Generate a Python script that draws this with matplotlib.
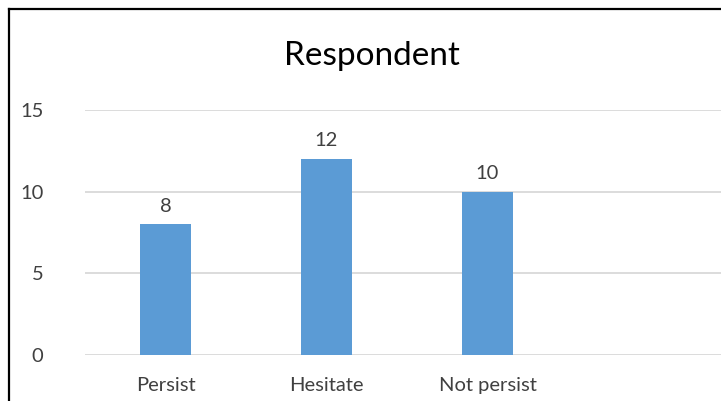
import numpy as np
import matplotlib.pyplot as plt
from matplotlib.lines import Line2D

# dades del grafic
categories = ['Persist', 'Hesitate', 'Not persist', '']
valors = [8, 12, 10, np.nan]
yticks = [0, 5, 10, 15]
titol = 'Respondent'

plt.rcParams['font.family'] = ['Lato', 'DejaVu Sans']

W, H = 721, 401
fig = plt.figure(figsize=(W / 100, H / 100), dpi=100)
fig.patch.set_facecolor('white')

# eixos ajustats a la posicio de la imatge original (pixels)
esq, dre, baix, dalt = 85, 721, 355, 110
ax = fig.add_axes([esq / W, 1 - baix / H, (dre - esq) / W, (baix - dalt) / H])

x = np.arange(len(categories))
barres = ax.bar(x, valors, width=0.32, color='#5B9BD5', zorder=3)

for xi, v in zip(x, valors):
    if not np.isnan(v):
        ax.annotate(f'{int(v)}', (xi, v), xytext=(0, 7), textcoords='offset points',
                    ha='center', va='bottom', fontsize=14.5, color='#404040')

ax.set_xlim(-0.5, (dre - esq) / 161 - 0.5)
ax.set_ylim(0, 15)
ax.set_yticks(yticks)
ax.set_yticklabels([str(t) for t in yticks], fontsize=14.5, color='#404040')
ax.set_xticks(x)
ax.set_xticklabels(categories, fontsize=14.5, color='#404040')
ax.tick_params(axis='both', length=0)
ax.tick_params(axis='y', pad=30)
ax.tick_params(axis='x', pad=16)
ax.grid(axis='y', color='#D9D9D9', linewidth=1.3, zorder=0)
for s in ax.spines.values():
    s.set_visible(False)

fig.text(372 / W, 1 - 56 / H, titol, ha='center', va='center', fontsize=24, color='black')

# marc negre (retallat a la dreta i a baix)
fig.add_artist(Line2D([9 / W, 9 / W], [0, 1 - 9 / H], color='black', lw=1.6,
                      transform=fig.transFigure))
fig.add_artist(Line2D([9 / W, 1], [1 - 9 / H, 1 - 9 / H], color='black', lw=1.6,
                      transform=fig.transFigure))

fig.savefig('out.png', dpi=100)
